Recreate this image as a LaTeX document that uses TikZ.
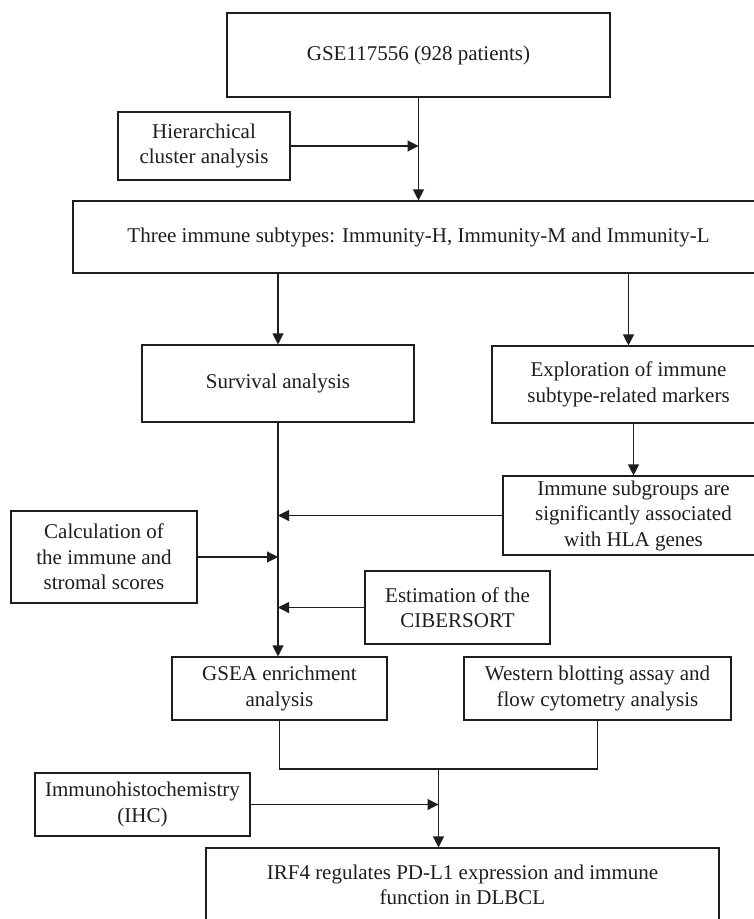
\documentclass[tikz,border=0pt]{standalone}
\usepackage{fontspec}
\setmainfont{Liberation Serif}
\usetikzlibrary{arrows.meta,positioning,calc}
\definecolor{lineblack}{RGB}{30,30,30}

\begin{document}
\begin{tikzpicture}[
        x=1pt, y=-1pt,
        box/.style={draw=lineblack, line width=1.1pt, inner sep=0pt, align=center, font=\fontsize{21}{25.5}\selectfont, text=lineblack},
        arrow/.style={-{Triangle[length=11pt, width=11pt]}, line width=1.1pt, lineblack},
        link/.style={line width=1.1pt, lineblack}
    ]
        \useasboundingbox (0,0) rectangle (754,919);
        \fill[white] (0,0) rectangle (754,919);

        \node[box, minimum width=383pt, minimum height=84pt] (gse) at (418.5,55) {GSE117556 (928 patients)};
        \node[box, minimum width=172pt, minimum height=68pt] (hier) at (204,146) {Hierarchical\\cluster analysis};
        \node[box, minimum width=691pt, minimum height=72pt] (three) at (418.5,237) {Three immune subtypes: Immunity-H, Immunity-M and Immunity-L};
        \node[box, minimum width=272pt, minimum height=77pt] (surv) at (278,383.5) {Survival analysis};
        \node[box, minimum width=273pt, minimum height=77pt] (expl) at (628.5,384.5) {Exploration of immune\\subtype-related markers};
        \node[box, minimum width=261pt, minimum height=79pt] (subg) at (633.5,515.5) {Immune subgroups are\\significantly associated\\with HLA genes};
        \node[box, minimum width=186pt, minimum height=92pt] (calc) at (104,557) {Calculation of\\the immune and\\stromal scores};
        \node[box, minimum width=185pt, minimum height=73pt] (est) at (457.5,607.5) {Estimation of the\\CIBERSORT};
        \node[box, minimum width=215pt, minimum height=63pt] (gsea) at (279.5,688.5) {GSEA enrichment\\analysis};
        \node[box, minimum width=267pt, minimum height=63pt] (west) at (597.5,688.5) {Western blotting assay and\\flow cytometry analysis};
        \node[box, minimum width=215pt, minimum height=63pt] (ihc) at (142.5,804.5) {Immunohistochemistry\\(IHC)};
        \node[box, minimum width=513pt, minimum height=74pt] (irf) at (462.5,885) {IRF4 regulates PD-L1 expression and immune\\function in DLBCL};

        \coordinate (merge) at (438.5,769);

        \draw[arrow] (gse.south) -- (gse.south |- three.north);
        \draw[arrow] (hier.east) -- (hier.east -| gse.south);
        \draw[arrow] (three.south -| surv.north) -- (surv.north);
        \draw[arrow] (three.south -| expl.north) -- (expl.north);
        \draw[arrow] (expl.south -| subg.north) -- (subg.north);
        \draw[arrow] (surv.south) -- (surv.south |- gsea.north);
        \draw[arrow] (subg.west) -- (subg.west -| surv.south);
        \draw[arrow] (calc.east) -- (calc.east -| surv.south);
        \draw[arrow] (est.west) -- (est.west -| surv.south);
        \draw[link] (gsea.south) |- (merge) -| (west.south);
        \draw[arrow] (merge) -- (merge |- irf.north);
        \draw[arrow] (ihc.east) -- (ihc.east -| merge);
    \end{tikzpicture}
\end{document}
